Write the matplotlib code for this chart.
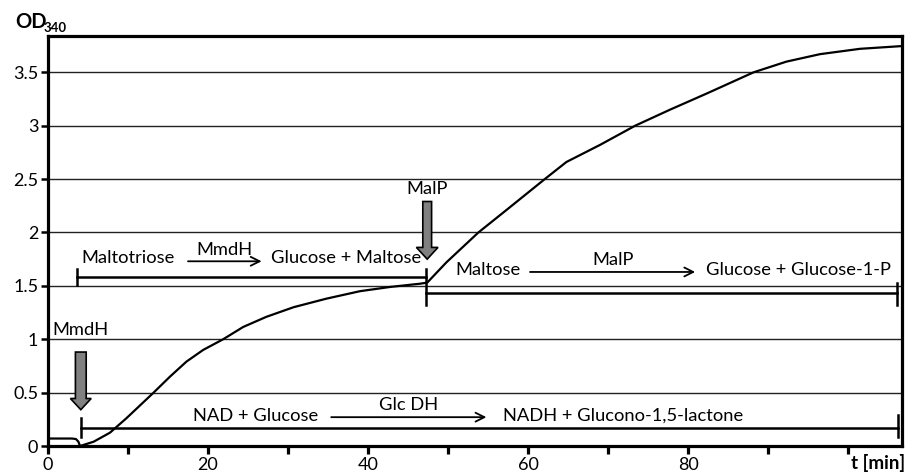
import matplotlib
matplotlib.use("Agg")
import matplotlib.pyplot as plt
import numpy as np

plt.rcParams['font.family'] = ['Lato', 'DejaVu Sans']

# OD340 trace (time in min)
time = [0, 3.0, 3.5, 3.8, 4.0, 5.7, 7.75, 9.8, 11.5, 13.2, 15.25, 17.3, 19.4, 21.9,
        24.4, 27.3, 30.7, 34.8, 39.0, 42.8, 46.5, 47.4, 49.8, 53.8, 57.3, 62.1,
        64.8, 69.0, 73.4, 77.75, 82.3, 88.2, 92.3, 96.5, 101.5, 106.6]
od = [0.07, 0.07, 0.065, 0.04, 0.0, 0.04, 0.125, 0.26, 0.38, 0.5, 0.65, 0.79, 0.90, 1.0,
      1.115, 1.21, 1.30, 1.38, 1.45, 1.49, 1.52, 1.53, 1.72, 2.0, 2.21, 2.5,
      2.66, 2.82, 3.0, 3.15, 3.30, 3.5, 3.6, 3.67, 3.72, 3.745]

# enzyme additions: (label, time)
add_labels = ['MmdH', 'MalP']
add_times = [4.1, 47.4]

xticks = [0, 10, 20, 30, 40, 50, 60, 70, 80, 90, 100]
xticklabels = ['0', '', '20', '', '40', '', '60', '', '80', '', '']
yticks = [0, 0.5, 1, 1.5, 2, 2.5, 3, 3.5]
yticklabels = ['0', '0.5', '1', '1.5', '2', '2.5', '3', '3.5']

FS = 13.2

fig = plt.figure(figsize=(9.1, 4.72), dpi=100)
ax = fig.add_axes([0.05275, 0.05508, 0.93846, 0.86864])
ax.set_xlim(0, 106.75)
ax.set_ylim(0, 3.84)

for s in ax.spines.values():
    s.set_linewidth(2.3)
ax.set_xticks(xticks)
ax.set_xticklabels(xticklabels, fontsize=13)
ax.set_yticks(yticks)
ax.set_yticklabels(yticklabels, fontsize=13)
ax.tick_params(axis='x', length=6, width=2.3, pad=2)
ax.tick_params(axis='y', length=5, width=1.8, pad=2)
ax.yaxis.grid(True, color='#222222', lw=1.0)
ax.set_axisbelow(True)

ax.plot(time, od, color='black', lw=1.6)

# bracket helper
def bracket(x0, x1, y, ticks):
    ax.plot([x0, x1], [y, y], color='black', lw=1.8)
    for x, ylo, yhi in ticks:
        ax.plot([x, x], [ylo, yhi], color='black', lw=1.8)

def react(x0, x1, y, label, ly):
    ax.annotate('', xy=(x1, y), xytext=(x0, y),
                arrowprops=dict(arrowstyle='->', lw=1.3, color='black', mutation_scale=16,
                                shrinkA=0, shrinkB=0))
    ax.text((x0 + x1) / 2, ly, label, fontsize=FS, ha='center', va='center')

# gray addition arrows
arrow_tops = [0.88, 2.29]
arrow_tips = [0.34, 1.75]
head_len = [0.105, 0.11]
shaft_w = [1.35, 1.1]
head_w = [2.6, 2.7]
label_y = [1.09, 2.41]
label_x = [0.6, 44.8]
for i in range(2):
    ax.add_patch(matplotlib.patches.FancyArrow(
        add_times[i], arrow_tops[i], 0, arrow_tips[i] - arrow_tops[i],
        width=shaft_w[i], head_width=head_w[i], head_length=head_len[i],
        length_includes_head=True, fc='#808080', ec='black', lw=1.2))
    ax.text(label_x[i], label_y[i], add_labels[i], fontsize=FS, ha='left', va='center')

# NAD + Glucose -> NADH + Glucono-1,5-lactone
bracket(4.1, 106.3, 0.17, [(4.1, 0.08, 0.26), (106.3, 0.08, 0.29)])
ax.text(18.1, 0.28, 'NAD + Glucose', fontsize=FS, ha='left', va='center')
react(35.4, 54.8, 0.27, 'Glc DH', 0.385)
ax.text(56.9, 0.28, 'NADH + Glucono-1,5-lactone', fontsize=FS, ha='left', va='center')

# Maltotriose -> Glucose + Maltose
bracket(3.6, 47.3, 1.58, [(3.6, 1.51, 1.66), (47.3, 1.32, 1.66)])
ax.text(4.2, 1.76, 'Maltotriose', fontsize=FS, ha='left', va='center')
react(17.5, 26.7, 1.73, 'MmdH', 1.84)
ax.text(27.9, 1.76, 'Glucose + Maltose', fontsize=FS, ha='left', va='center')

# Maltose -> Glucose + Glucose-1-P
bracket(47.3, 106.1, 1.43, [(106.1, 1.32, 1.53)])
ax.text(50.9, 1.65, 'Maltose', fontsize=FS, ha='left', va='center')
react(60.25, 80.9, 1.63, 'MalP', 1.74)
ax.text(82.3, 1.65, 'Glucose + Glucose-1-P', fontsize=FS, ha='left', va='center')

fig.text(15 / 910, 1 - 28.5 / 472, 'OD', fontsize=14.5, fontweight='bold', ha='left', va='baseline')
fig.text(44 / 910, 1 - 32.5 / 472, '340', fontsize=9.5, fontweight='bold', ha='left', va='baseline')
fig.text(905 / 910, 1 - 463 / 472, 't [min]', fontsize=13.5, fontweight='bold', ha='right', va='center')

fig.savefig('out.png', dpi=100)
